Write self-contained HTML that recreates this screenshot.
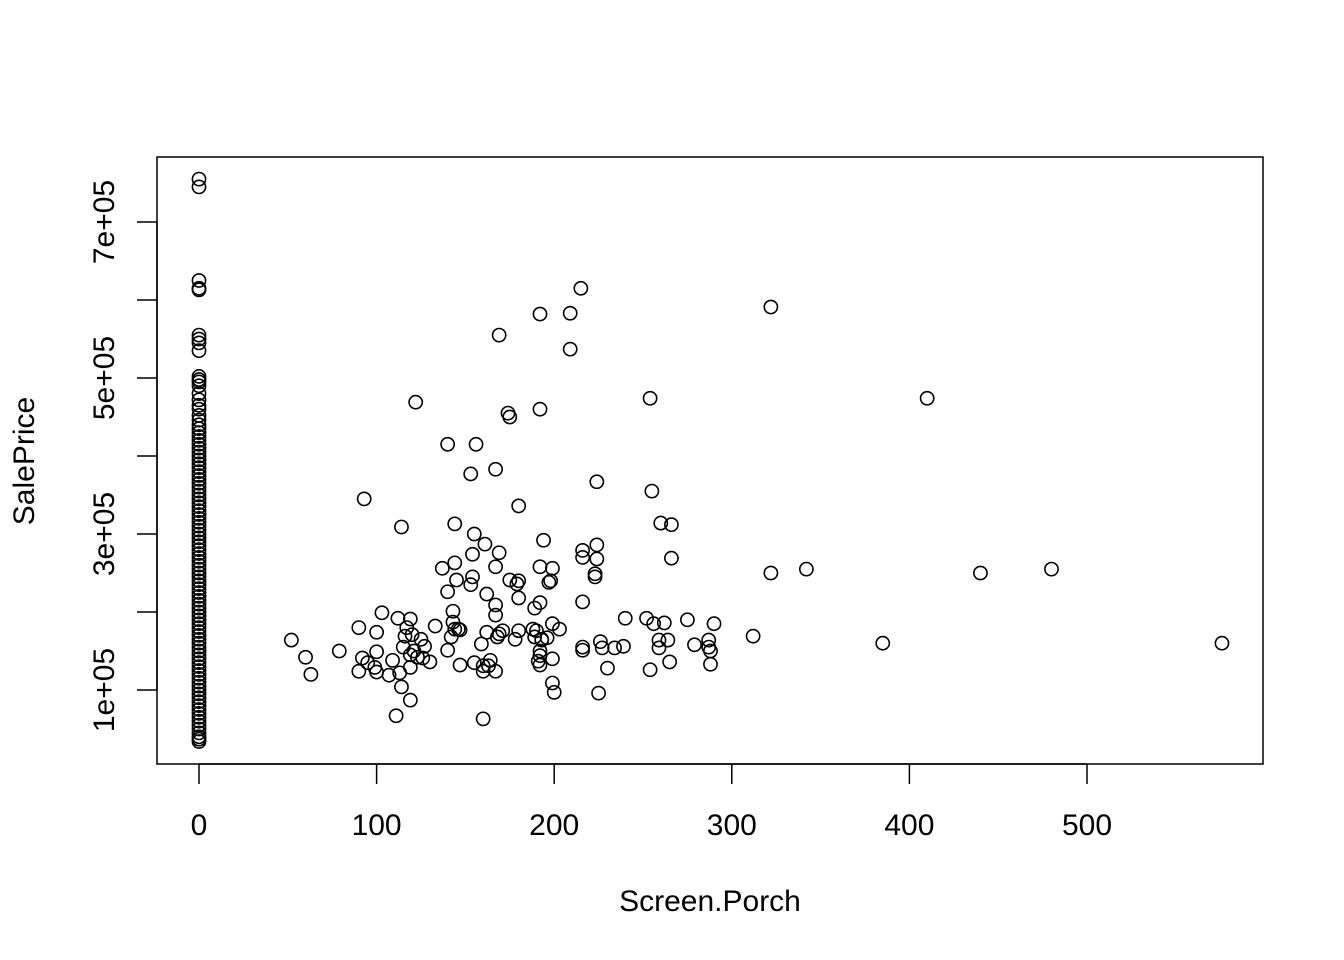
<!DOCTYPE html>
<html><head><meta charset="utf-8"><style>
html,body{margin:0;padding:0;background:#fff;}
svg{display:block;font-family:"Liberation Sans",Arial,sans-serif;}
</style></head><body>
<svg id="chart" width="1344" height="960" viewBox="0 0 1344 960">
<rect x="157" y="157" width="1106" height="607" fill="none" stroke="#000" stroke-width="1.5"/>
<g id="xaxis"></g>
<g id="yaxis"></g>
<g id="points"></g>
<text x="710" y="911" font-size="30" text-anchor="middle">Screen.Porch</text>
<text transform="translate(34,461) rotate(-90)" font-size="30" text-anchor="middle">SalePrice</text>
</svg>
<script>
const xTicks=[0,100,200,300,400,500];
const yTicks=[100000,200000,300000,400000,500000,600000,700000];
const yTickLabels={100000:"1e+05",300000:"3e+05",500000:"5e+05",700000:"7e+05"};
const zeroPrices=[755,745,625,615,613,555,550,545,535,502,498,495,490,480,472,465,460,452,446,440,435,430,425,420,415,410,405,400,395,390,385,380,375,370,365,360,355,350,345,340,335,330,325,320,315,310,305,300,295,290,285,280,275,270,265,260,255,250,245,240,235,230,225,220,215,210,205,200,195,190,185,180,175,170,165,160,155,150,145,140,135,130,125,120,115,110,105,100,95,90,85,80,75,70,65,60,55,50,45,40,37,34];
const porchX=[52,60,63,79,90,90,92,93,95,99,100,100,100,103,107,109,111,112,113,114,114,115,116,117,119,119,119,119,120,121,122,123,125,126,127,130,133,137,140,140,140,142,143,143,144,144,144,145,146,147,147,153,153,154,154,155,155,156,159,160,160,160,161,162,162,163,164,167,167,167,167,167,168,169,169,169,171,174,175,175,178,179,180,180,180,180,188,189,189,190,191,192,192,192,192,192,192,192,193,193,194,196,197,198,199,199,199,199,200,203,209,209,215,216,216,216,216,216,223,223,224,224,224,225,226,227,230,234,239,240,252,254,254,255,256,259,259,260,262,264,265,266,266,275,279,287,287,288,288,290,312,322,322,342,385,410,440,480,576];
const porchPrice=[164,142,120,150,180,124,141,345,135,129,174,149,123,199,119,138,67,192,122,309,104,155,169,180,87,129,145,191,171,150,469,142,165,141,156,136,182,256,226,151,415,168,201,187,313,263,178,241,178,177,132,377,235,274,245,300,135,415,159,131,63,124,287,223,174,131,138,258,124,383,209,196,168,172,555,276,176,455,241,450,165,236,240,336,218,176,178,205,168,176,137,582,150,132,258,460,144,212,164,165,292,167,238,240,185,256,140,109,97,178,537,583,615,213,270,279,155,151,249,245,286,268,367,96,162,154,128,154,156,192,192,126,474,355,185,154,164,314,186,164,136,312,269,190,158,155,164,133,150,185,169,250,591,255,160,474,250,255,160];
const NS="http://www.w3.org/2000/svg";
const xs=v=>199+1.776*v;
const ys=v=>690-(v-100000)*0.00078;
const xa=document.getElementById('xaxis'),ya=document.getElementById('yaxis'),pg=document.getElementById('points');
function mk(tag,attrs,parent){const e=document.createElementNS(NS,tag);for(const k in attrs)e.setAttribute(k,attrs[k]);parent.appendChild(e);return e;}
mk('line',{x1:xs(0),x2:xs(500),y1:764,y2:764,stroke:'#000','stroke-width':1.5},xa);
xTicks.forEach(t=>{
 const l=mk('line',{x1:xs(t),x2:xs(t),y1:764,y2:784,stroke:'#000','stroke-width':1.5},xa);
 
 
 const tx=mk('text',{x:xs(t),y:835,'font-size':30,'text-anchor':'middle'},xa);
 tx.textContent=t;
 
 
});
mk('line',{x1:157,x2:157,y1:ys(100000),y2:ys(700000),stroke:'#000','stroke-width':1.5},ya);
yTicks.forEach(t=>{
 const l=mk('line',{x1:137,x2:157,y1:ys(t),y2:ys(t),stroke:'#000','stroke-width':1.5},ya);
 
 
 if(yTickLabels[t]){
  const tx=mk('text',{transform:`translate(114,${ys(t)}) rotate(-90)`,'font-size':30,'text-anchor':'middle'},ya);
  tx.textContent=yTickLabels[t];
  
  
 }
});
function pt(x,y){
 const c=mk('circle',{cx:xs(x),cy:ys(y),r:6.6,fill:'none',stroke:'#000','stroke-width':1.6},pg);
 
 
}
zeroPrices.forEach(p=>pt(0,p*1000));
porchX.forEach((x,i)=>pt(x,porchPrice[i]*1000));
</script>
</body></html>
